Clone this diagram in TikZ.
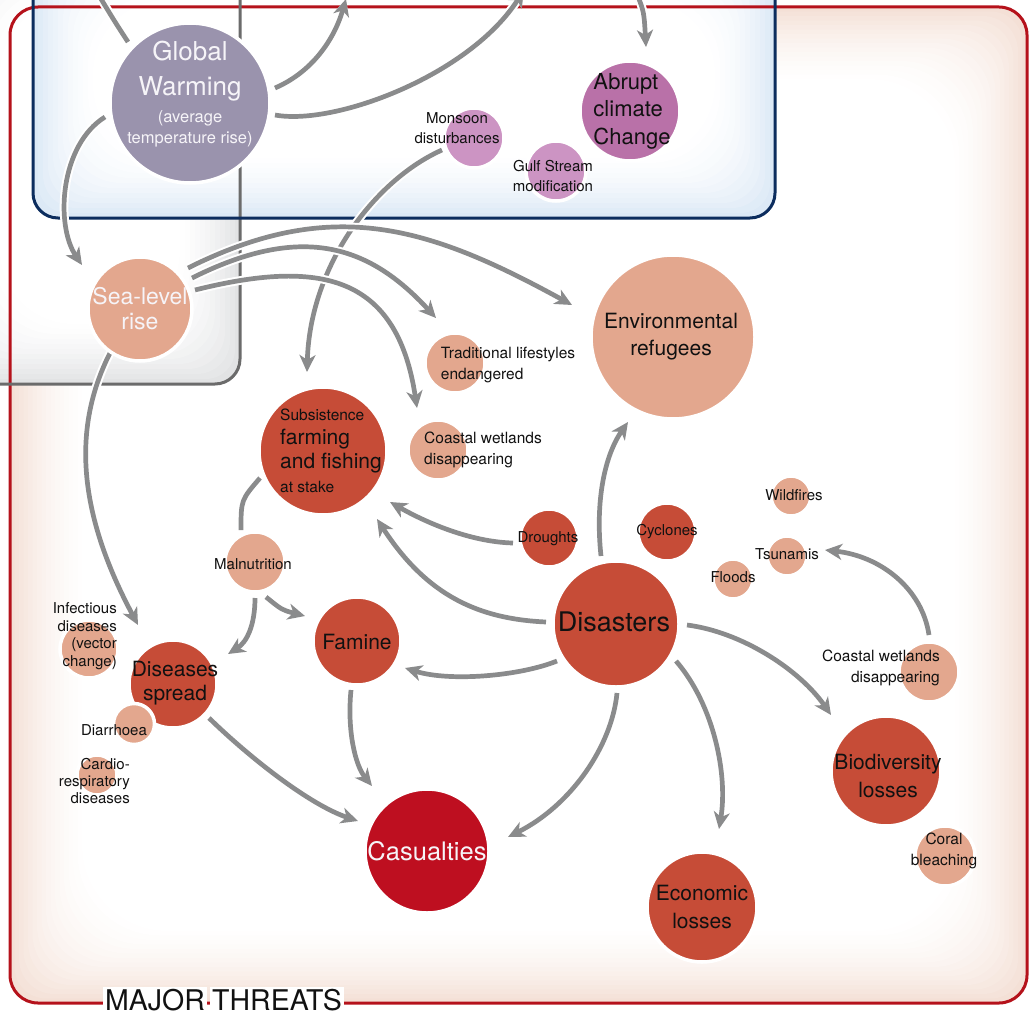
\documentclass[tikz,border=0pt]{standalone}
\usepackage{fontspec}
\setmainfont{TeX Gyre Heros}
\usetikzlibrary{arrows.meta,calc}
\definecolor{gwcol}{HTML}{9A93AD}
\definecolor{abcol}{HTML}{B971A8}
\definecolor{lpcol}{HTML}{CC94C3}
\definecolor{salcol}{HTML}{E3A78E}
\definecolor{redcol}{HTML}{C64C37}
\definecolor{cascol}{HTML}{BE0F20}
\definecolor{arrcol}{HTML}{8A8B8C}
\definecolor{framered}{HTML}{B5121B}
\definecolor{frameblue}{HTML}{0C2D5E}
\definecolor{framegray}{HTML}{6B6B6B}
\definecolor{glowred}{HTML}{F4E0D6}
\definecolor{glowblue}{HTML}{DCE9F6}
\definecolor{glowgray}{HTML}{E2E3E4}
\definecolor{txt}{HTML}{111111}
\definecolor{wtxt}{HTML}{F6F4F8}
\newcommand\fsz[2]{\fontsize{#1}{#2}\selectfont}
\begin{document}
\begin{tikzpicture}[x=1pt,y=-1pt,
  bub/.style={circle, inner sep=0pt, draw=white, line width=3.5pt, minimum size=#1},
  arr/.style={draw=arrcol, line width=4.7pt, -{Stealth[length=17pt,width=16pt,inset=5pt]},
    preaction={draw=white, line width=8.7pt}},
  lin/.style={draw=arrcol, line width=4.7pt, preaction={draw=white, line width=8.7pt}},
  lab/.style={text=txt, font=\fsz{15}{19.5}, align=center, inner sep=0pt},
  big/.style={text=txt, font=\fsz{21}{27}, align=center, inner sep=0pt},
  wlab/.style={text=wtxt, align=center, inner sep=0pt},
  ttl/.style={text=txt, font=\fsz{28.5}{30}, fill=white, inner sep=1.8pt, anchor=base}]
\useasboundingbox (0,0) rectangle (1030,1014);
% ---- frame fills (inner glow) ----
\foreach \k in {0,...,16}{
  \pgfmathsetmacro\d{\k*4.5}
  \pgfmathsetmacro\p{1-\k/16}
  \pgfmathsetmacro\pc{100*\p*(0.4+0.6*\p)}
  \pgfmathsetmacro\rc{28+\d*0.8}
  \fill[glowred!\pc!white, rounded corners=\rc pt] (10+\d,7+\d) rectangle (1027-\d,1003-\d);
}
\foreach \k in {0,...,12}{
  \pgfmathsetmacro\d{\k*5}
  \pgfmathsetmacro\p{1-\k/12}
  \pgfmathsetmacro\pc{100*\p*(0.4+0.6*\p)}
  \pgfmathsetmacro\rc{25+\d*0.8}
  \fill[glowgray!\pc!white, rounded corners=\rc pt] (-60+\d,-60+\d) rectangle (240-\d,384-\d);
}
\foreach \k in {0,...,12}{
  \pgfmathsetmacro\d{\k*5}
  \pgfmathsetmacro\p{1-\k/12}
  \pgfmathsetmacro\pc{100*\p*(0.4+0.6*\p)}
  \pgfmathsetmacro\rc{25+\d*0.8}
  \fill[glowblue!\pc!white, rounded corners=\rc pt] (33+\d,-60+\d) rectangle (775-\d,218-\d);
}
% ---- frame lines ----
\draw[framered, line width=3pt, rounded corners=28pt] (10,7) rectangle (1027,1003);
\draw[framegray, line width=3pt, rounded corners=25pt] (-60,-60) rectangle (240,384);
\draw[frameblue, line width=3pt, rounded corners=25pt] (33,-60) rectangle (775,218);
% ---- free ends ----
\coordinate (top1) at (98,-6);
\coordinate (top2) at (346,-1);
\coordinate (top3) at (524,-10);
\coordinate (top4) at (637,-6);
% ---- bubble positions ----
\coordinate (gwc) at (190,103);
\coordinate (abruptc) at (630,111);
\coordinate (monsoonc) at (474,138);
\coordinate (slrc) at (140,309);
\coordinate (envc) at (673,337);
\coordinate (tradc) at (455,363);
\coordinate (cwupc) at (438,450);
\coordinate (subsc) at (323,451);
\coordinate (malc) at (255,562);
\coordinate (faminec) at (357,641);
\coordinate (disc) at (173,684);
\coordinate (casc) at (427,851);
\coordinate (disac) at (616,624);
\coordinate (droughtc) at (549,538);
\coordinate (tsunc) at (787,556);
\coordinate (cwrightc) at (929,672);
\coordinate (bioc) at (886,771);
\coordinate (econc) at (702,907);
% ---- connectors ----
\draw[lin] ($(gwc)+(-62,-61)$) .. controls (115,22) .. (top1);
\draw[arr] ($(gwc)+(85,-15)$) .. controls (312,72) and (334,40) .. (top2);
\draw[arr] ($(gwc)+(85,12)$) .. controls (335,126) and (470,75) .. (top3);
\draw[arr] (top4) .. controls (644,12) .. ($(abruptc)+(16,-64)$);
\draw[arr] ($(gwc)+(-85,14)$) .. controls (60,145) and (55,225) .. ($(slrc)+(-58,-44)$);
\draw[arr] ($(monsoonc)+(-32,12)$) .. controls (375,180) and (310,265) .. ($(subsc)+(-16,-79)$);
\draw[arr] ($(slrc)+(55,-19)$) .. controls (319,259) and (397,274) .. ($(cwupc)+(-21,-42)$);
\draw[arr] ($(slrc)+(52,-31)$) .. controls (302,223) and (369,245) .. ($(tradc)+(-19,-45)$);
\draw[arr] ($(slrc)+(48,-41)$) .. controls (332,196) and (428,226) .. ($(envc)+(-101,-32)$);
\draw[arr] ($(slrc)+(-30,44)$) .. controls (69,434) and (82,520) .. ($(disc)+(-35,-59)$);
\draw[lin] ($(malc)+(-14,-32)$) .. controls (241,500) .. ($(subsc)+(-63,27)$);
\draw[arr] ($(malc)+(11,35)$) .. controls (282,610) .. ($(faminec)+(-52,-25)$);
\draw[arr] ($(malc)+(0,36)$) .. controls (255,625) and (247,642) .. ($(disc)+(55,-30)$);
\draw[arr] ($(faminec)+(-6,49)$) .. controls (347,730) and (355,765) .. ($(casc)+(-55,-65)$);
\draw[arr] ($(disc)+(36,34)$) .. controls (250,758) and (310,805) .. ($(casc)+(-69,-30)$);
\draw[arr] ($(disac)+(-59,37)$) .. controls (520,676) and (450,682) .. ($(faminec)+(48,27)$);
\draw[arr] ($(disac)+(-70,-2)$) .. controls (479,619) and (427,596) .. ($(subsc)+(54,68)$);
\draw[arr] ($(droughtc)+(-36,5)$) .. controls (470,542) and (425,522) .. ($(subsc)+(67,51)$);
\draw[arr] ($(disac)+(-15,-68)$) .. controls (595,500) and (605,455) .. ($(envc)+(-45,85)$);
\draw[arr] ($(disac)+(1,69)$) .. controls (612,745) and (572,805) .. ($(casc)+(81,-14)$);
\draw[arr] ($(disac)+(60,37)$) .. controls (714,705) and (728,775) .. ($(econc)+(17,-78)$);
\draw[arr] ($(disac)+(71,1)$) .. controls (742,632) and (800,670) .. ($(bioc)+(-55,-56)$);
\draw[arr] ($(cwrightc)+(0,-37)$) .. controls (922,588) and (880,556) .. ($(tsunc)+(38,-6)$);
% ---- bubbles ----
\node[bub=160pt, fill=gwcol] (gw) at (gwc) {};
\node[bub=100pt, fill=abcol] (abrupt) at (abruptc) {};
\node[bub=60pt, fill=lpcol] (monsoon) at (monsoonc) {};
\node[bub=60pt, fill=lpcol] (gulf) at (556,171) {};
\node[bub=104pt, fill=salcol] (slr) at (slrc) {};
\node[bub=164pt, fill=salcol] (env) at (envc) {};
\node[bub=60pt, fill=salcol] (trad) at (tradc) {};
\node[bub=60pt, fill=salcol] (cwup) at (cwupc) {};
\node[bub=128pt, fill=redcol] (subs) at (subsc) {};
\node[bub=60pt, fill=salcol] (mal) at (malc) {};
\node[bub=88pt, fill=redcol] (famine) at (faminec) {};
\node[bub=58pt, fill=salcol] (infect) at (89,649) {};
\node[bub=88pt, fill=redcol] (dis) at (disc) {};
\node[bub=41pt, fill=salcol] (diarr) at (134,724) {};
\node[bub=40pt, fill=salcol] (cardio) at (97,775) {};
\node[bub=124pt, fill=cascol] (cas) at (casc) {};
\node[bub=126pt, fill=redcol] (disa) at (disac) {};
\node[bub=58pt, fill=redcol] (drought) at (droughtc) {};
\node[bub=58pt, fill=redcol] (cyclone) at (667,532) {};
\node[bub=40pt, fill=salcol] (wild) at (791,496) {};
\node[bub=40pt, fill=salcol] (tsun) at (tsunc) {};
\node[bub=40pt, fill=salcol] (flood) at (733,579) {};
\node[bub=60pt, fill=salcol] (cwright) at (cwrightc) {};
\node[bub=110pt, fill=redcol] (bio) at (bioc) {};
\node[bub=60pt, fill=salcol] (coral) at (945,856) {};
\node[bub=110pt, fill=redcol] (econ) at (econc) {};
% ---- texts ----
\node[wlab, font=\fsz{26}{35}] (gw-t1) at (190,71) {Global\\Warming};
\node[wlab, font=\fsz{16.5}{21}] (gw-t2) at (190,129) {(average\\temperature rise)};
\node[big, align=left, font=\fsz{22}{27.5}] (abrupt-t) at (632,111) {Abrupt\\climate\\Change};
\node[lab] (monsoon-t) at (457,128) {Monsoon\\disturbances};
\node[lab] (gulf-t) at (553,176) {Gulf Stream\\modification};
\node[wlab, font=\fsz{23}{25}] (slr-t) at (140,309) {Sea-level\\rise};
\node[big] (env-t) at (671,337) {Environmental\\refugees};
\node[lab, align=left, font=\fsz{15.5}{21}] (trad-t) at (508,365) {Traditional lifestyles\\endangered};
\node[lab, align=left, font=\fsz{15.5}{21}] (cwup-t) at (483,450) {Coastal wetlands\\disappearing};
\node[big, align=left, font=\fsz{21}{24}] (subs-t) at (331,451) {{\fsz{15.5}{24}Subsistence}\\farming\\and fishing\\{\fsz{15.5}{24}at stake}};
\node[lab] (mal-t) at (253,564) {Malnutrition};
\node[big] (famine-t) at (357,642) {Famine};
\node[big, font=\fsz{21}{24}] (dis-t) at (175,683) {Diseases\\spread};
\node[lab, align=right, font=\fsz{15}{17.5}, anchor=east] (infect-t) at (117,636) {Infectious\\diseases\\(vector\\change)};
\node[lab] (diarr-t) at (114,730) {Diarrhoea};
\node[lab, align=right, font=\fsz{15}{17}, anchor=east] (cardio-t) at (130,781) {Cardio-\\respiratory\\diseases};
\node[wlab, font=\fsz{25.5}{30}] (cas-t) at (427,851) {Casualties};
\node[big, font=\fsz{27}{30}] (disa-t) at (614,622) {Disasters};
\node[lab] (drought-t) at (548,539) {Droughts};
\node[lab] (cyclone-t) at (667,532) {Cyclones};
\node[lab] (wild-t) at (794,495) {Wildfires};
\node[lab] (tsun-t) at (787,554) {Tsunamis};
\node[lab] (flood-t) at (733,577) {Floods};
\node[lab, align=right, font=\fsz{15.5}{21}, anchor=east] (cwright-t) at (940,668) {Coastal wetlands\\disappearing};
\node[big, font=\fsz{21}{28}] (bio-t) at (888,776) {Biodiversity\\losses};
\node[lab, font=\fsz{15.5}{21}] (coral-t) at (944,851) {Coral\\bleaching};
\node[big, font=\fsz{21}{28}] (econ-t) at (702,907) {Economic\\losses};
\node[ttl] (major1) at (155,1010) {MAJOR};
\node[ttl] (major2) at (277,1010) {THREATS};
\end{tikzpicture}
\end{document}
